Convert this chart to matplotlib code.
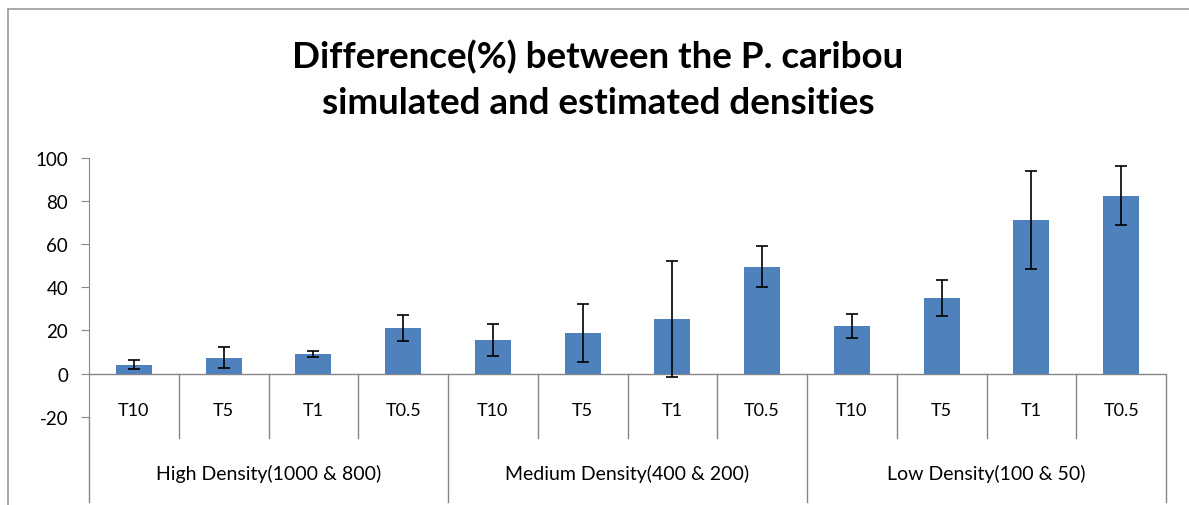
import matplotlib
matplotlib.use("Agg")
import matplotlib.pyplot as plt
from matplotlib.lines import Line2D

# data
groups = ["High Density(1000 & 800)", "Medium Density(400 & 200)", "Low Density(100 & 50)"]
intervals = ["T10", "T5", "T1", "T0.5"]
diff_pct = [4.2, 7.4, 9.0, 21.2,
            15.5, 18.7, 25.3, 49.6,
            22.0, 35.0, 71.4, 82.6]
err_pct = [2.3, 4.9, 1.5, 6.0,
           7.3, 13.5, 27.0, 9.4,
           5.7, 8.5, 22.7, 13.8]
yticks = [-20, 0, 20, 40, 60, 80, 100]

plt.rcParams["font.family"] = ["Lato", "DejaVu Sans"]
plt.rcParams["axes.unicode_minus"] = False
W, H = 1189, 506
fig = plt.figure(figsize=(W / 100, H / 100), dpi=100)
grey = "#868686"

# chart area frame (only left and top visible in the crop)
fig.add_artist(Line2D([8 / W, 8 / W], [0, 1 - 10 / H], transform=fig.transFigure, color="#9a9a9a", lw=1.2))
fig.add_artist(Line2D([8 / W, 1], [1 - 10 / H, 1 - 10 / H], transform=fig.transFigure, color="#9a9a9a", lw=1.2))

fig.text(0.503, 1 - 57 / H, "Difference(%) between the P. caribou", ha="center", va="center",
         fontsize=26.5, fontweight="bold")
fig.text(0.503, 1 - 104 / H, "simulated and estimated densities", ha="center", va="center",
         fontsize=26.5, fontweight="bold")

left, right, top, bottom = 89, 1166, 159, 417.7
ax = fig.add_axes([left / W, 1 - bottom / H, (right - left) / W, (bottom - top) / H])

n = len(diff_pct)
x = list(range(n))
ax.bar(x, diff_pct, width=0.4, color="#4F81BD", zorder=2)
ax.errorbar(x, diff_pct, yerr=err_pct, fmt="none", ecolor="black", elinewidth=1.2,
            capsize=4.5, capthick=1.2, zorder=3, clip_on=False)

ax.set_xlim(-0.5, n - 0.5)
ax.set_ylim(-20, 100)
ax.set_yticks(yticks)
ax.tick_params(axis="y", direction="out", length=6, color=grey, labelsize=13.5, pad=9)
ax.set_xticks([])
for s in ["top", "right", "bottom"]:
    ax.spines[s].set_visible(False)
ax.spines["left"].set_color(grey)

# category axis at zero
ax.axhline(0, color=grey, lw=1, zorder=1)

# two-level category table below the axis
lo_tick, lo_group = -30.1, -59.4
kw = dict(color=grey, lw=1, clip_on=False)
ax.plot([-0.5, -0.5], [-20, lo_group], **kw)
for i in range(1, n):
    edge = i - 0.5
    ax.plot([edge, edge], [0, lo_group if i % 4 == 0 else lo_tick], **kw)
ax.plot([n - 0.5, n - 0.5], [0, lo_group], **kw)

for i in x:
    ax.text(i, -17, intervals[i % 4], ha="center", va="center", fontsize=13, clip_on=False)
for g, name in enumerate(groups):
    ax.text(g * 4 + 1.5, -46, name, ha="center", va="center", fontsize=14, clip_on=False)

fig.savefig("out.png", dpi=100)
